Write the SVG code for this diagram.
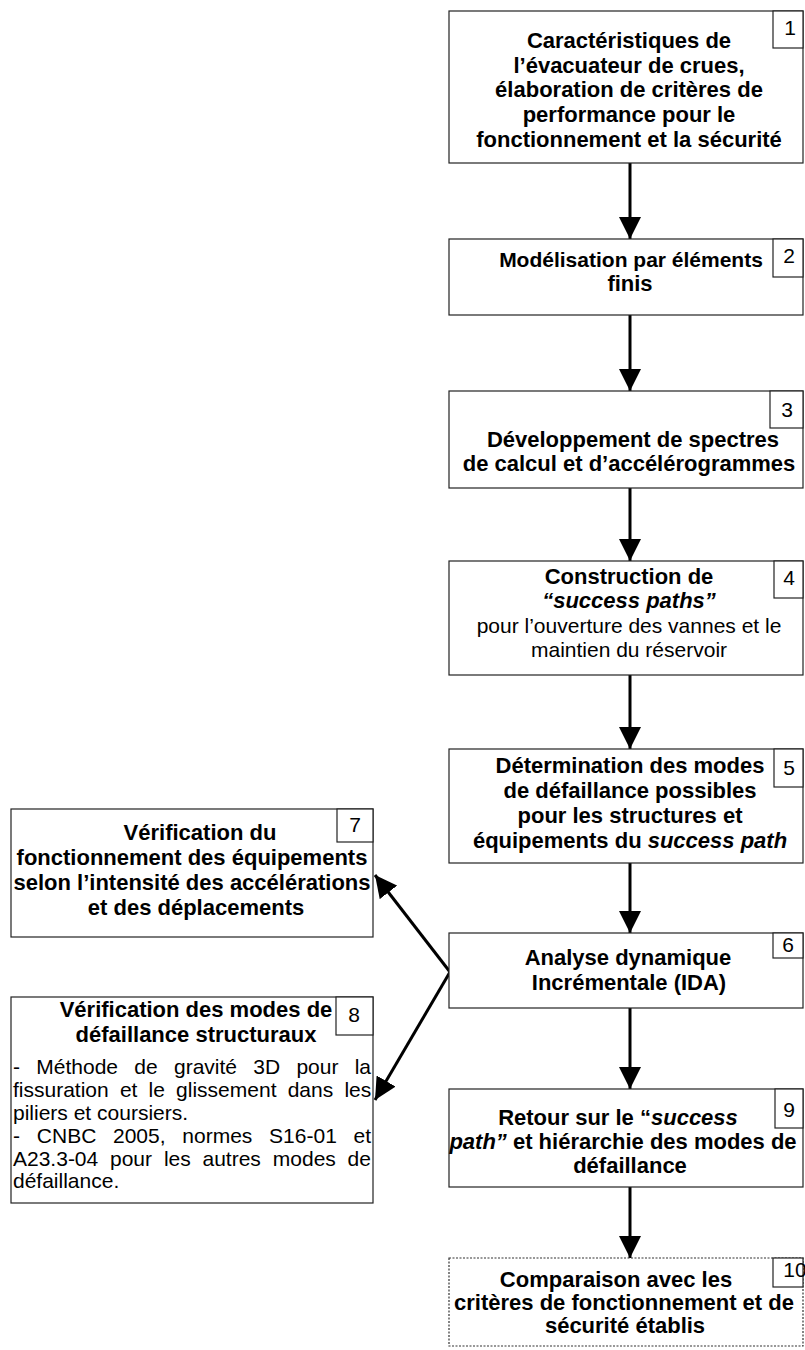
<svg xmlns="http://www.w3.org/2000/svg" width="805" height="1350" viewBox="0 0 805 1350">
<style>
.box{fill:#fff;stroke:#222;stroke-width:1.2}
.dot{fill:#fff;stroke:#333;stroke-width:1.2;stroke-dasharray:2,1.5}
.num{fill:#fff;stroke:#222;stroke-width:1.2}
.t{font-family:"Liberation Sans",Arial,sans-serif;font-size:22px;font-weight:bold;fill:#000;text-anchor:middle}
.r{font-family:"Liberation Sans",Arial,sans-serif;font-size:21px;fill:#000}
.rc{font-family:"Liberation Sans",Arial,sans-serif;font-size:21px;fill:#000;text-anchor:middle}
.n{font-family:"Liberation Sans",Arial,sans-serif;font-size:21px;fill:#000;text-anchor:middle}
.i{font-style:italic}
.c{fill:none;stroke:#000;stroke-width:3}
</style>
<defs>
<marker id="ah" markerUnits="userSpaceOnUse" markerWidth="22" markerHeight="22" viewBox="0 0 22 22" refX="22" refY="11" orient="auto">
<path d="M0,0 L22,11 L0,22 z" fill="#000"/>
</marker>
</defs>
<rect width="805" height="1350" fill="#fff"/>

<g id="connectors">
<path class="c" d="M630,163 L630,239" marker-end="url(#ah)"/>
<path class="c" d="M630,315 L630,391" marker-end="url(#ah)"/>
<path class="c" d="M630,488 L630,561" marker-end="url(#ah)"/>
<path class="c" d="M630,675 L630,749" marker-end="url(#ah)"/>
<path class="c" d="M630,863 L630,933" marker-end="url(#ah)"/>
<path class="c" d="M630,1008 L630,1089" marker-end="url(#ah)"/>
<path class="c" d="M630,1187 L630,1258" marker-end="url(#ah)"/>
<path class="c" d="M450,972 L375,875" marker-end="url(#ah)"/>
<path class="c" d="M450,972 L375,1100" marker-end="url(#ah)"/>
</g>

<g id="node1">
<rect class="box" x="449" y="11" width="354" height="152"/>
<rect class="num" x="773" y="11" width="30" height="37"/>
<text class="n" x="790" y="35">1</text>
<text class="t" x="629" y="48">Caractéristiques de</text>
<text class="t" x="629" y="73">l’évacuateur de crues,</text>
<text class="t" x="629" y="97">élaboration de critères de</text>
<text class="t" x="629" y="122">performance pour le</text>
<text class="t" x="629" y="147">fonctionnement et la sécurité</text>
</g>

<g id="node2">
<rect class="box" x="449" y="239" width="354" height="76"/>
<rect class="num" x="773" y="239" width="30" height="38"/>
<text class="n" x="789" y="263">2</text>
<text class="t" x="631" y="267" style="font-size:21px">Modélisation par éléments</text>
<text class="t" x="630" y="291">finis</text>
</g>

<g id="node3">
<rect class="box" x="449" y="391" width="354" height="97"/>
<rect class="num" x="770" y="391" width="33" height="37"/>
<text class="n" x="787" y="417">3</text>
<text class="t" x="633" y="447">Développement de spectres</text>
<text class="t" x="629" y="471">de calcul et d’accélérogrammes</text>
</g>

<g id="node4">
<rect class="box" x="449" y="561" width="354" height="114"/>
<rect class="num" x="774" y="561" width="29" height="37"/>
<text class="n" x="789" y="585">4</text>
<text class="t" x="629" y="584">Construction de</text>
<text class="t i" x="629" y="608">“success paths”</text>
<text class="rc" x="629" y="633">pour l’ouverture des vannes et le</text>
<text class="rc" x="629" y="657">maintien du réservoir</text>
</g>

<g id="node5">
<rect class="box" x="449" y="749" width="354" height="114"/>
<rect class="num" x="774" y="749" width="29" height="38"/>
<text class="n" x="789" y="775">5</text>
<text class="t" x="630" y="773">Détermination des modes</text>
<text class="t" x="630" y="798">de défaillance possibles</text>
<text class="t" x="630" y="823">pour les structures et</text>
<text class="t" x="630" y="848">équipements du <tspan class="i">success path</tspan></text>
</g>

<g id="node6">
<rect class="box" x="449" y="933" width="354" height="75"/>
<rect class="num" x="773" y="933" width="30" height="25"/>
<text class="n" x="788" y="952">6</text>
<text class="t" x="628" y="965">Analyse dynamique</text>
<text class="t" x="629" y="990">Incrémentale (IDA)</text>
</g>

<g id="node7">
<rect class="box" x="11" y="809" width="362" height="128"/>
<rect class="num" x="337" y="809" width="36" height="33"/>
<text class="n" x="355" y="832">7</text>
<text class="t" x="200" y="840">Vérification du</text>
<text class="t" x="192" y="865">fonctionnement des équipements</text>
<text class="t" x="192" y="890">selon l’intensité des accélérations</text>
<text class="t" x="196" y="915">et des déplacements</text>
</g>

<g id="node8">
<rect class="box" x="11" y="997" width="362" height="206"/>
<rect class="num" x="336" y="997" width="37" height="38"/>
<text class="n" x="354" y="1022">8</text>
<text class="t" x="196" y="1017">Vérification des modes de</text>
<text class="t" x="196" y="1042">défaillance structuraux</text>
<text class="r" y="1074"><tspan x="13">-</tspan><tspan x="36.3">Méthode</tspan><tspan x="134.3">de</tspan><tspan x="174">gravité</tspan><tspan x="253.3">3D</tspan><tspan x="296.4">pour</tspan><tspan x="354.7">la</tspan></text>
<text class="r" y="1097"><tspan x="13">fissuration</tspan><tspan x="119.9">et</tspan><tspan x="148.6">le</tspan><tspan x="176.1">glissement</tspan><tspan x="287.7">dans</tspan><tspan x="344.4">les</tspan></text>
<text class="r" x="13" y="1120">piliers et coursiers.</text>
<text class="r" y="1143"><tspan x="13">-</tspan><tspan x="36.8">CNBC</tspan><tspan x="113">2005,</tspan><tspan x="182.3">normes</tspan><tspan x="269.1">S16-01</tspan><tspan x="353.5">et</tspan></text>
<text class="r" y="1166"><tspan x="13">A23.3-04</tspan><tspan x="110">pour</tspan><tspan x="163.9">les</tspan><tspan x="202.5">autres</tspan><tspan x="272.8">modes</tspan><tspan x="347.6">de</tspan></text>
<text class="r" x="13" y="1188">défaillance.</text>
</g>

<g id="node9">
<rect class="box" x="449" y="1089" width="354" height="98"/>
<rect class="num" x="775" y="1089" width="28" height="39"/>
<text class="n" x="789" y="1117">9</text>
<text class="t" x="618" y="1125">Retour sur le “<tspan class="i">success</tspan></text>
<text class="t" x="623" y="1149"><tspan class="i">path”</tspan> et hiérarchie des modes de</text>
<text class="t" x="630" y="1173">défaillance</text>
</g>

<g id="node10">
<rect class="dot" x="449" y="1258" width="354" height="88"/>
<rect class="num" x="773" y="1258" width="30" height="29"/>
<text class="n" x="795" y="1277">10</text>
<text class="t" x="616" y="1287">Comparaison avec les</text>
<text class="t" x="624" y="1310">critères de fonctionnement et de</text>
<text class="t" x="625" y="1333">sécurité établis</text>
</g>
</svg>
